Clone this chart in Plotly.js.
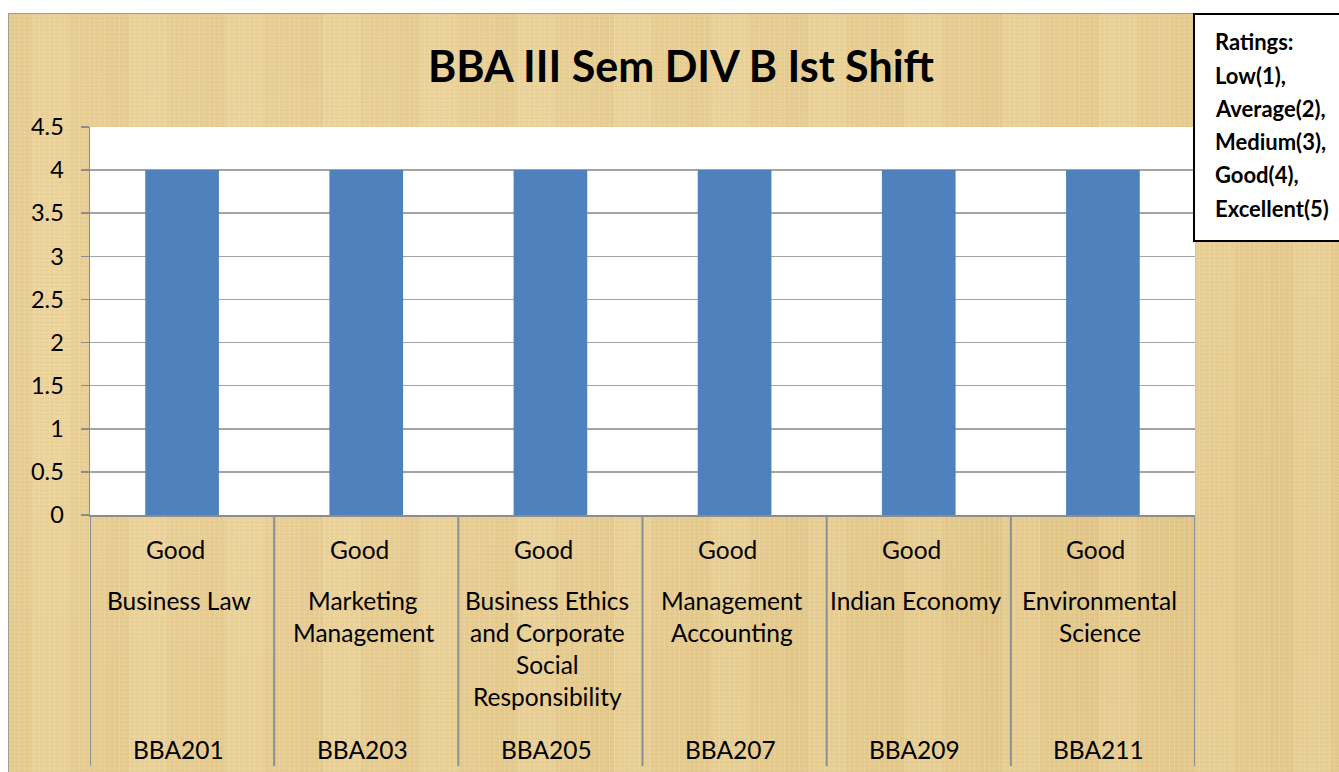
<!DOCTYPE html>
<html>
<head>
<meta charset="utf-8">
<script src="https://cdn.plot.ly/plotly-3.0.1.min.js"></script>
<style>
  html, body { margin:0; padding:0; background:#ffffff; width:1339px; height:772px; overflow:hidden; }
  #bg {
    position:absolute; left:8px; top:13px; width:1340px; height:770px;
    box-sizing:border-box; border-left:1.5px solid #9b9b9b; border-top:1.5px solid #9b9b9b;
    background-color:#E8CF95;
    background-image:
      repeating-linear-gradient(90deg, rgba(255,245,215,0.16) 0px, rgba(255,245,215,0.16) 1px, rgba(0,0,0,0) 1px, rgba(0,0,0,0) 5px),
      repeating-linear-gradient(0deg, rgba(150,110,40,0.05) 0px, rgba(150,110,40,0.05) 1px, rgba(0,0,0,0) 1px, rgba(0,0,0,0) 4px),
      repeating-linear-gradient(90deg, rgba(175,135,55,0.05) 0px, rgba(175,135,55,0.05) 23px, rgba(255,240,200,0.06) 23px, rgba(255,240,200,0.06) 61px, rgba(190,150,70,0.04) 61px, rgba(190,150,70,0.04) 97px),
      radial-gradient(ellipse at 30% 40%, rgba(255,240,205,0.18), rgba(0,0,0,0) 60%),
      radial-gradient(ellipse at 80% 70%, rgba(200,160,80,0.12), rgba(0,0,0,0) 55%);
  }
  #chart { position:absolute; left:0; top:0; width:1339px; height:772px; }
</style>
</head>
<body>
<div id="bg"></div>
<div id="chart"></div>
<script>
// ---- data ----
var codes = ['BBA201', 'BBA203', 'BBA205', 'BBA207', 'BBA209', 'BBA211'];
var subjectLines = [
  ['Business Law'],
  ['Marketing', 'Management'],
  ['Business Ethics', 'and Corporate', 'Social', 'Responsibility'],
  ['Management', 'Accounting'],
  ['Indian Economy'],
  ['Environmental', 'Science']
];
var ratingWords = ['Good', 'Good', 'Good', 'Good', 'Good', 'Good'];
var ratingValues = [4, 4, 4, 4, 4, 4];
var legendLines = ['Ratings:', 'Low(1),', 'Average(2),', 'Medium(3),', 'Good(4),', 'Excellent(5)'];
var chartTitle = 'BBA III Sem DIV B Ist Shift';

// ---- geometry helpers (pixel -> paper) ----
var W = 1339, H = 772;
var L = 90, R = 1195, T = 127, B = 515;
function px(x) { return (x - L) / (R - L); }
function py(y) { return (B - y) / (B - T); }

var labelFont = { family: 'Lato, sans-serif', size: 24.5, color: '#000' };
var annotations = [];
var shapes = [];

for (var i = 0; i < codes.length; i++) {
  annotations.push({ xref: 'x', yref: 'paper', x: codes[i], y: py(549), xshift: -7,
    text: ratingWords[i], showarrow: false, font: labelFont, xanchor: 'center', yanchor: 'middle' });
  for (var j = 0; j < subjectLines[i].length; j++) {
    annotations.push({ xref: 'x', yref: 'paper', x: codes[i], y: py(600 + 32 * j), xshift: -3,
      text: subjectLines[i][j], showarrow: false, font: labelFont, xanchor: 'center', yanchor: 'middle' });
  }
  annotations.push({ xref: 'x', yref: 'paper', x: codes[i], y: py(749), xshift: -4,
    text: codes[i], showarrow: false, font: labelFont, xanchor: 'center', yanchor: 'middle' });
}
for (var k = 0; k <= codes.length; k++) {
  shapes.push({ type: 'line', xref: 'x', yref: 'paper', x0: k - 0.5, x1: k - 0.5, y0: 0, y1: py(766),
    line: { color: '#8a8f98', width: 2 } });
}
// ratings box
shapes.push({ type: 'rect', xref: 'paper', yref: 'paper', x0: px(1194), x1: px(1360), y0: py(14), y1: py(241),
  fillcolor: '#ffffff', line: { color: '#000000', width: 2 }, layer: 'above' });
for (var m = 0; m < legendLines.length; m++) {
  annotations.push({ xref: 'paper', yref: 'paper', x: px(1213), y: py(42 + 33.2 * m),
    text: legendLines[m], showarrow: false, xanchor: 'left', yanchor: 'middle',
    font: { family: 'Lato, sans-serif', size: 22, weight: 'bold', color: '#000' } });
}

var trace = {
  type: 'bar',
  x: codes,
  y: ratingValues,
  marker: { color: '#4F81BD', line: { width: 0 } },
  hoverinfo: 'none'
};

var layout = {
  width: W, height: H,
  margin: { l: L, r: W - R, t: T, b: H - B, pad: 0 },
  paper_bgcolor: 'rgba(0,0,0,0)',
  plot_bgcolor: '#ffffff',
  showlegend: false,
  bargap: 0.6,
  title: {
    text: chartTitle,
    xref: 'container', yref: 'container',
    x: 681 / W, y: 1 - 67 / H, xanchor: 'center', yanchor: 'middle',
    font: { family: 'Lato, sans-serif', size: 43, weight: 'bold', color: '#000' }
  },
  xaxis: {
    type: 'category',
    range: [-0.5, 5.5],
    showticklabels: false,
    ticks: '',
    showgrid: false,
    zeroline: false,
    showline: true, linecolor: '#8c8c8c', linewidth: 1.5,
    fixedrange: true
  },
  yaxis: {
    range: [0, 4.5],
    dtick: 0.5, tick0: 0,
    showgrid: true, gridcolor: '#a3a3a3', gridwidth: 1.5,
    zeroline: false,
    showline: true, linecolor: '#8c8c8c', linewidth: 1.5,
    ticks: 'outside', ticklen: 8, tickcolor: '#8c8c8c', tickwidth: 1.5,
    ticklabelstandoff: 12,
    tickfont: { family: 'Lato, sans-serif', size: 23.5, color: '#000' },
    fixedrange: true
  },
  annotations: annotations,
  shapes: shapes
};

Plotly.newPlot('chart', [trace], layout, { staticPlot: true, displayModeBar: false });
</script>
</body>
</html>
